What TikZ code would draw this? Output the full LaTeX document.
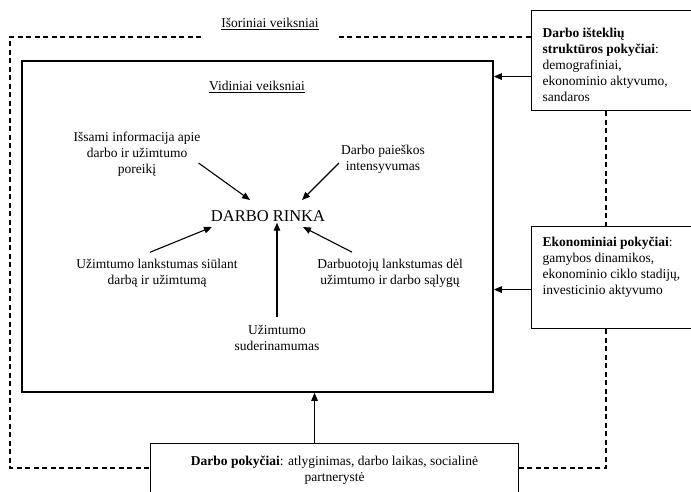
\documentclass[tikz,border=0pt]{standalone}
\usepackage{fontspec}
\setmainfont{Liberation Serif}
\usetikzlibrary{arrows.meta,positioning}
\newcommand{\txtsize}{\fontsize{13.5}{16}\selectfont}
\newcommand{\bigsize}{\fontsize{16.5}{20}\selectfont}

\begin{document}
\begin{tikzpicture}[
  x=1pt, y=-1pt,
  inbox/.style={rectangle, draw, line width=1.6pt, inner sep=0pt},
  extbox/.style={rectangle, draw, line width=1.1pt, anchor=north west, inner ysep=0pt, font=\txtsize},
  lbl/.style={align=center, inner sep=0pt, font=\txtsize},
  arr/.style={-{Triangle[length=8pt,width=6.5pt]}, line width=1.1pt},
  frame/.style={dashed, line width=1.1pt, dash pattern=on 5pt off 3.5pt}
]
  \useasboundingbox (0,0) rectangle (691,491);
  \clip (0,0) rectangle (691,491);

  % --- inner factors ---
  \node[inbox, minimum width=471pt, minimum height=331pt] (vid) at (257.5,226.5) {};
  \node[lbl] (vidlbl) at (257,87) {\underline{Vidiniai veiksniai}};

  \node[lbl, font=\bigsize, minimum height=30pt] (rinka) at (268,216) {DARBO RINKA};
  \node[lbl] (info) at (137,154) {Išsami informacija apie\\ darbo ir užimtumo\\ poreikį};
  \node[lbl] (search) at (383,159) {Darbo paieškos\\ intensyvumas};
  \node[lbl] (flexa) at (157,273) {Užimtumo lankstumas siūlant\\ darbą ir užimtumą};
  \node[lbl] (flexb) at (390,273) {Darbuotojų lankstumas dėl\\ užimtumo ir darbo sąlygų};
  \node[lbl] (suder) at (277,338) {Užimtumo\\ suderinamumas};

  \draw[arr] ([xshift=-2pt,yshift=-9pt]info.east) -- ([xshift=-18pt,yshift=16pt]rinka.center);
  \draw[arr] ([xshift=-2pt,yshift=-4pt]search.west) -- ([xshift=34pt,yshift=16pt]rinka.center);
  \draw[arr] ([xshift=-7pt,yshift=6.5pt]flexa.north) -- ([xshift=-56pt,yshift=-11pt]rinka.center);
  \draw[arr] ([xshift=-38pt,yshift=6.5pt]flexb.north) -- ([xshift=35pt,yshift=-11pt]rinka.center);
  \draw[arr] ([yshift=8.5pt]suder.north) -- ([yshift=8.5pt]suder.north |- rinka.south);

  % --- outer factors ---
  \node[lbl] (ext) at (270,24) {\underline{Išoriniai veiksniai}};

  \node[extbox, inner xsep=11pt] (res) at (531,10) {\parbox[c][100pt][t]{150pt}{\raggedright\vspace*{17pt}%
    \textbf{Darbo išteklių}\\ \textbf{struktūros pokyčiai}:\\ demografiniai,\\ ekonominio aktyvumo,\\ sandaros}};
  \node[extbox, inner xsep=11pt] (ekon) at (531,226) {\parbox[c][102pt][t]{150pt}{\raggedright\vspace*{10.5pt}%
    \textbf{Ekonominiai pokyčiai}:\\ gamybos dinamikos,\\ ekonominio ciklo stadijų,\\ investicinio aktyvumo}};
  \node[extbox, inner xsep=14pt] (dp) at (150,443) {\parbox[c][60pt][t]{340pt}{\centering\vspace*{12.5pt}%
    \textbf{Darbo pokyčiai}: atlyginimas, darbo laikas, socialinė\\ partnerystė}};

  \draw[arr] ([yshift=-16pt]res.west) -- ([yshift=-16pt]res.west -| vid.east);
  \draw[arr] ([yshift=-12pt]ekon.west) -- ([yshift=-12pt]ekon.west -| vid.east);
  \draw[arr] ([xshift=-20pt]dp.north) -- ([xshift=-20pt]dp.north |- vid.south);

  % dashed frame round everything
  \coordinate (tl) at (10,37);
  \coordinate (br) at (606,468);
  \draw[frame] ([xshift=-20pt]ext.west |- tl) -- (tl) |- (dp.west |- br);
  \draw[frame] ([xshift=20pt]ext.east |- tl) -- (res.west |- tl);
  \draw[frame] (res.south -| br) -- (ekon.north -| br);
  \draw[frame] (ekon.south -| br) -- (br) -- (dp.east |- br);

\end{tikzpicture}
\end{document}
